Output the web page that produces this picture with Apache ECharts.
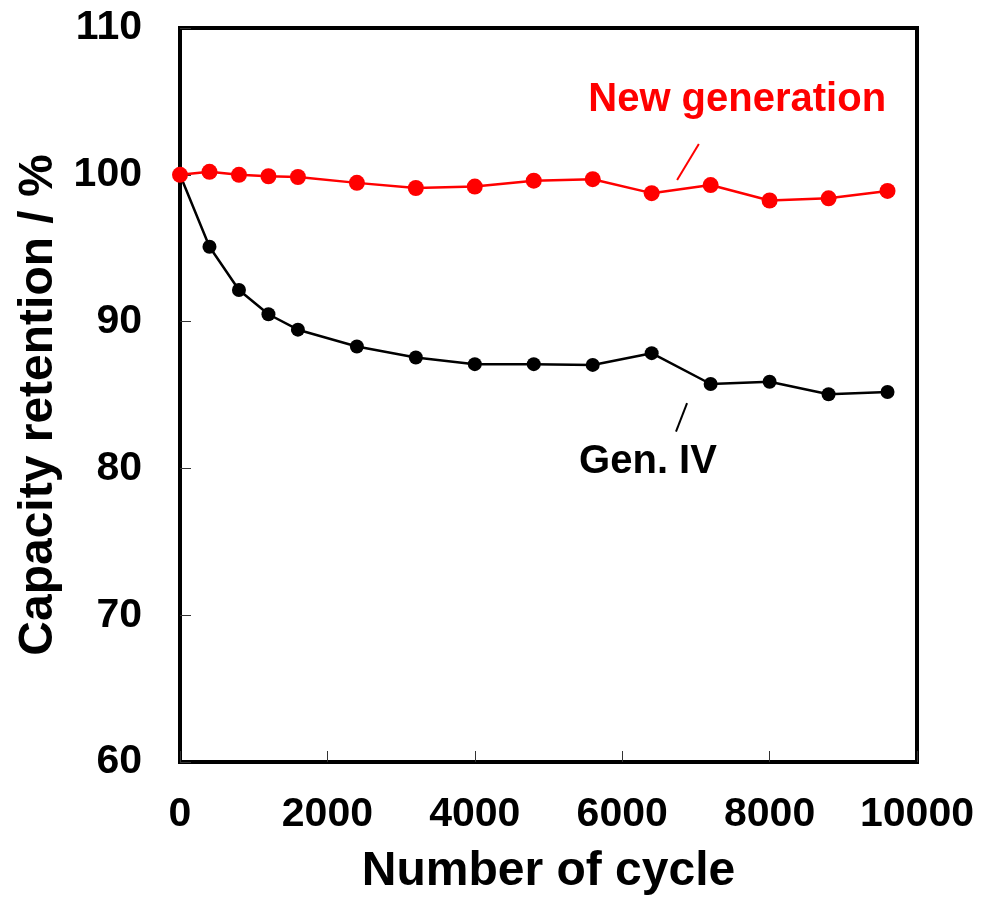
<!DOCTYPE html>
<html lang="en">
<head>
  <meta charset="UTF-8">
  <title>Capacity retention</title>
  <script src="https://cdn.jsdelivr.net/npm/echarts@6/dist/echarts.min.js"></script>
  <style>
    html, body { margin: 0; padding: 0; background: #fff; }
    #chart { width: 981px; height: 897px; }
  </style>
</head>
<body>
<div id="chart"></div>
<script>
  // cycle numbers
  const cycles = [0, 400, 800, 1200, 1600, 2400, 3200, 4000, 4800, 5600, 6400, 7200, 8000, 8800, 9600];
  // capacity retention (%)
  const newGen = [100, 100.2, 100.0, 99.9, 99.85, 99.45, 99.1, 99.2, 99.6, 99.7, 98.75, 99.3, 98.25, 98.4, 98.9];
  const genIV = [100, 95.1, 92.15, 90.5, 89.45, 88.3, 87.55, 87.1, 87.1, 87.05, 87.85, 85.75, 85.9, 85.05, 85.2];
  const yTicks = [60, 70, 80, 90, 100, 110];
  const xTicks = [0, 2000, 4000, 6000, 8000, 10000];

  // annotation leader lines and labels, in data coordinates
  const newGenLeader = [[7040, 102.1], [6745, 99.65]];
  const genIVLeader = [[6880, 84.45], [6730, 82.5]];
  const newGenLabel = [7560, 105.1];
  const genIVLabel = [6350, 80.45];

  const FONT = "'Liberation Sans', Arial, sans-serif";

  function toPairs(xs, ys) {
    let out = [];
    for (let i = 0; i < xs.length; i++) {
      out.push([xs[i], ys[i]]);
    }
    return out;
  }

  let myChart = echarts.init(document.getElementById('chart'), null, {renderer: 'canvas'});

  let option = {
    animation: false,
    backgroundColor: '#fff',
    grid: {
      left: 180,
      right: 64,
      top: 28,
      bottom: 135,
      outerBoundsMode: 'none',
      containLabel: false,
      show: true,
      borderColor: '#000',
      borderWidth: 4,
      backgroundColor: 'transparent'
    },
    xAxis: {
      type: 'value',
      min: xTicks[0],
      max: xTicks[xTicks.length - 1],
      interval: xTicks[1] - xTicks[0],
      name: 'Number of cycle',
      nameLocation: 'middle',
      nameGap: 86,
      nameTextStyle: {fontFamily: FONT, fontSize: 48, fontWeight: 'bold', color: '#000'},
      axisLine: {show: false},
      axisTick: {show: true, inside: true, length: 11, lineStyle: {color: '#333', width: 1}},
      splitLine: {show: false},
      axisLabel: {
        margin: 32,
        formatter: function (v) { return String(v); },
        fontFamily: FONT, fontSize: 41, fontWeight: 'bold', color: '#000'
      }
    },
    yAxis: {
      type: 'value',
      min: yTicks[0],
      max: yTicks[yTicks.length - 1],
      interval: yTicks[1] - yTicks[0],
      name: 'Capacity retention / %',
      nameLocation: 'middle',
      nameGap: 110,
      nameRotate: 90,
      nameTextStyle: {
        fontFamily: FONT, fontSize: 48, fontWeight: 'bold', color: '#000',
        padding: [0, 20, 0, 0]
      },
      axisLine: {show: false},
      axisTick: {show: true, inside: true, length: 11, lineStyle: {color: '#333', width: 1}},
      splitLine: {show: false},
      axisLabel: {
        margin: 38,
        fontFamily: FONT, fontSize: 41, fontWeight: 'bold', color: '#000'
      }
    },
    series: [
      {
        name: 'Gen. IV',
        type: 'line',
        data: toPairs(cycles, genIV),
        symbol: 'circle',
        symbolSize: 14,
        lineStyle: {color: '#000', width: 2.5},
        itemStyle: {color: '#000'},
        markLine: {
          silent: true,
          symbol: 'none',
          label: {show: false},
          lineStyle: {color: '#000', width: 2, type: 'solid'},
          data: [[{coord: genIVLeader[0]}, {coord: genIVLeader[1]}]]
        },
        markPoint: {
          silent: true,
          symbol: 'circle',
          symbolSize: 0,
          label: {
            show: true, position: 'inside', formatter: 'Gen. IV',
            fontFamily: FONT, fontSize: 40, fontWeight: 'bold', color: '#000'
          },
          data: [{coord: genIVLabel}]
        }
      },
      {
        name: 'New generation',
        type: 'line',
        data: toPairs(cycles, newGen),
        symbol: 'circle',
        symbolSize: 16,
        lineStyle: {color: '#ff0000', width: 2.5},
        itemStyle: {color: '#ff0000'},
        markLine: {
          silent: true,
          symbol: 'none',
          label: {show: false},
          lineStyle: {color: '#ff0000', width: 2, type: 'solid'},
          data: [[{coord: newGenLeader[0]}, {coord: newGenLeader[1]}]]
        },
        markPoint: {
          silent: true,
          symbol: 'circle',
          symbolSize: 0,
          label: {
            show: true, position: 'inside', formatter: 'New generation',
            fontFamily: FONT, fontSize: 40, fontWeight: 'bold', color: '#ff0000'
          },
          data: [{coord: newGenLabel}]
        }
      }
    ]
  };

  myChart.setOption(option, true);
  window.addEventListener("resize", function () {
    myChart.resize();
  });
</script>
</body>
</html>
